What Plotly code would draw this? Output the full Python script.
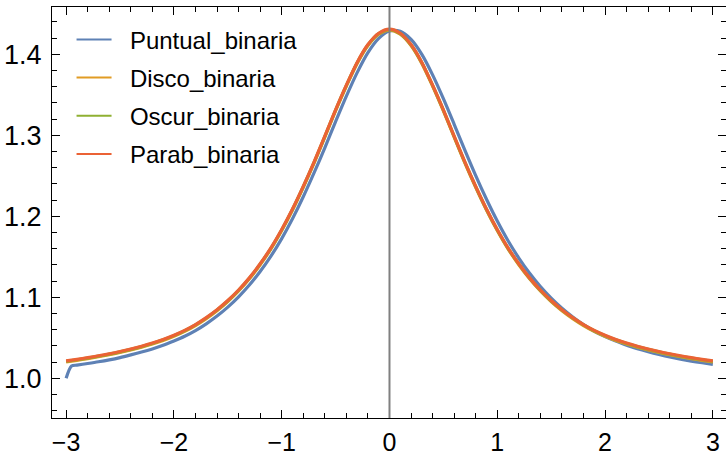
import plotly.graph_objects as go

# Common abscissa for the three coincident-profile series
x_vals = [-3.0, -2.9, -2.8, -2.7, -2.6, -2.5, -2.4, -2.3, -2.2, -2.1, -2.0,
          -1.9, -1.8, -1.7, -1.6, -1.5, -1.4, -1.3, -1.2, -1.1, -1.0,
          -0.9, -0.8, -0.7, -0.6, -0.5, -0.4, -0.3, -0.2, -0.1, 0.0,
          0.1, 0.2, 0.3, 0.4, 0.5, 0.6, 0.7, 0.8, 0.9, 1.0,
          1.1, 1.2, 1.3, 1.4, 1.5, 1.6, 1.7, 1.8, 1.9, 2.0,
          2.1, 2.2, 2.3, 2.4, 2.5, 2.6, 2.7, 2.8, 2.9, 3.0]

parab = [1.0215, 1.0234, 1.0255, 1.0278, 1.0303, 1.0331, 1.0362, 1.0396, 1.0435, 1.0480, 1.0532,
         1.0592, 1.0664, 1.0749, 1.0847, 1.0960, 1.1090, 1.1240, 1.1414, 1.1610, 1.1837,
         1.2090, 1.2370, 1.2670, 1.2990, 1.3315, 1.3620, 1.3900, 1.4120, 1.4260, 1.4310,
         1.4260, 1.4120, 1.3900, 1.3620, 1.3315, 1.2990, 1.2670, 1.2370, 1.2090, 1.1837,
         1.1610, 1.1414, 1.1240, 1.1090, 1.0960, 1.0847, 1.0749, 1.0664, 1.0592, 1.0532,
         1.0480, 1.0435, 1.0396, 1.0362, 1.0331, 1.0303, 1.0278, 1.0255, 1.0234, 1.0215]

disco = [1.0203, 1.0222, 1.0243, 1.0266, 1.0291, 1.0319, 1.0350, 1.0384, 1.0423, 1.0468, 1.0520,
         1.0580, 1.0652, 1.0737, 1.0835, 1.0948, 1.1078, 1.1228, 1.1402, 1.1598, 1.1825,
         1.2078, 1.2358, 1.2658, 1.2978, 1.3303, 1.3608, 1.3888, 1.4108, 1.4248, 1.4298,
         1.4248, 1.4108, 1.3888, 1.3608, 1.3303, 1.2978, 1.2658, 1.2358, 1.2078, 1.1825,
         1.1598, 1.1402, 1.1228, 1.1078, 1.0948, 1.0835, 1.0737, 1.0652, 1.0580, 1.0520,
         1.0468, 1.0423, 1.0384, 1.0350, 1.0319, 1.0291, 1.0266, 1.0243, 1.0222, 1.0203]

oscur = [1.0210, 1.0229, 1.0250, 1.0273, 1.0298, 1.0326, 1.0357, 1.0391, 1.0430, 1.0475, 1.0527,
         1.0587, 1.0659, 1.0744, 1.0842, 1.0955, 1.1085, 1.1235, 1.1409, 1.1605, 1.1832,
         1.2085, 1.2365, 1.2665, 1.2985, 1.3310, 1.3615, 1.3895, 1.4115, 1.4255, 1.4305,
         1.4255, 1.4115, 1.3895, 1.3615, 1.3310, 1.2985, 1.2665, 1.2365, 1.2085, 1.1832,
         1.1605, 1.1409, 1.1235, 1.1085, 1.0955, 1.0842, 1.0744, 1.0659, 1.0587, 1.0527,
         1.0475, 1.0430, 1.0391, 1.0357, 1.0326, 1.0298, 1.0273, 1.0250, 1.0229, 1.0210]

# Point-lens series has its own sampling (extra node near the left edge)
x_puntual = [-3.0, -2.95, -2.9, -2.8, -2.7, -2.6, -2.5, -2.4, -2.3, -2.2, -2.1, -2.0,
             -1.9, -1.8, -1.7, -1.6, -1.5, -1.4, -1.3, -1.2, -1.1, -1.0,
             -0.9, -0.8, -0.7, -0.6, -0.5, -0.4, -0.3, -0.2, -0.1, 0.0,
             0.1, 0.2, 0.3, 0.4, 0.5, 0.6, 0.7, 0.8, 0.9, 1.0,
             1.1, 1.2, 1.3, 1.4, 1.5, 1.6, 1.7, 1.8, 1.9, 2.0,
             2.1, 2.2, 2.3, 2.4, 2.5, 2.6, 2.7, 2.8, 2.9, 3.0]
puntual = [1.0000, 1.0152, 1.0163, 1.0183, 1.0204, 1.0228, 1.0256, 1.0289, 1.0324, 1.0363, 1.0408, 1.0461,
           1.0519, 1.0589, 1.0673, 1.0769, 1.0879, 1.1006, 1.1151, 1.1318, 1.1508, 1.1725,
           1.1970, 1.2241, 1.2535, 1.2846, 1.3169, 1.3483, 1.3774, 1.4021, 1.4197, 1.4288,
           1.4283, 1.4183, 1.3999, 1.3746, 1.3452, 1.3136, 1.2814, 1.2502, 1.2210, 1.1941,
           1.1698, 1.1484, 1.1296, 1.1132, 1.0989, 1.0864, 1.0756, 1.0662, 1.0580, 1.0515,
           1.0459, 1.0408, 1.0366, 1.0329, 1.0295, 1.0264, 1.0237, 1.0213, 1.0192, 1.0173]

names = ["Puntual_binaria", "Disco_binaria", "Oscur_binaria", "Parab_binaria"]
colors = ["#5E81B5", "#E19C24", "#8FB032", "#EB6235"]

x_ticks = [-3, -2, -1, 0, 1, 2, 3]
y_ticks = [1.0, 1.1, 1.2, 1.3, 1.4]

FONT = "Liberation Sans, Arial, sans-serif"
GAP = "\u00a0\u00a0"  # spacing between legend swatch and label

fig = go.Figure()

series = [(x_puntual, puntual), (x_vals, disco), (x_vals, oscur), (x_vals, parab)]
for (xs, ys), name, col in zip(series, names, colors):
    fig.add_trace(go.Scatter(
        x=xs, y=ys, mode="lines", name=name, showlegend=False,
        line=dict(color=col, width=3.2, shape="spline", smoothing=0.8),
        hoverinfo="skip",
    ))

# Thinner swatches for the legend
for name, col in zip(names, colors):
    fig.add_trace(go.Scatter(
        x=[None], y=[None], mode="lines", name=GAP + name, legendgroup=name,
        line=dict(color=col, width=2),
    ))

# Vertical axis through the origin, drawn over the curves
fig.add_shape(type="line", x0=0, x1=0, y0=0, y1=1, xref="x", yref="paper",
              line=dict(color="#808080", width=2), layer="above")

axis_common = dict(
    showline=True, linecolor="black", linewidth=1.2, mirror="allticks",
    ticks="inside", ticklen=8, tickwidth=1.2, tickcolor="black",
    showgrid=False, zeroline=False,
)

fig.update_layout(
    width=726, height=459,
    margin=dict(l=52, r=0, t=7, b=41),
    paper_bgcolor="white", plot_bgcolor="white",
    font=dict(family=FONT, color="black"),
    xaxis=dict(range=[-3.131, 3.122], tickvals=x_ticks,
               tickfont=dict(size=25), ticklabelstandoff=2,
               minor=dict(ticks="inside", ticklen=5, tickwidth=1, tickcolor="black", dtick=0.2, tick0=0),
               **axis_common),
    yaxis=dict(range=[0.951, 1.4584], tickvals=y_ticks, tickformat=".1f",
               tickfont=dict(size=27), ticklabelstandoff=4,
               minor=dict(ticks="inside", ticklen=5, tickwidth=1, tickcolor="black", dtick=0.02, tick0=1.0),
               **axis_common),
    legend=dict(
        x=0.029, y=0.975, xanchor="left", yanchor="top",
        bgcolor="rgba(255,255,255,0)", borderwidth=0,
        font=dict(family=FONT, size=24, color="black"),
        traceorder="grouped", tracegroupgap=4, itemwidth=35,
    ),
)

fig.write_html("out.html")
